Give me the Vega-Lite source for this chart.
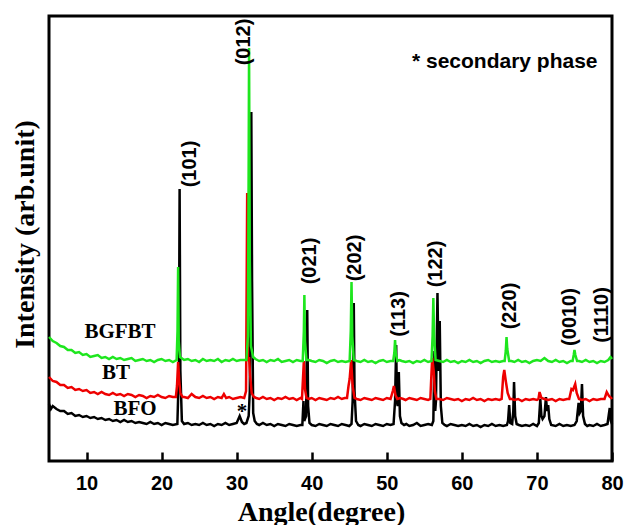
{
  "$schema": "https://vega.github.io/schema/vega-lite/v6.json",
  "width": 563,
  "height": 445,
  "autosize": {"type": "none"},
  "padding": {"left": 49, "top": 16, "right": 15, "bottom": 64},
  "background": "white",
  "config": {"view": {"stroke": "black", "strokeWidth": 3}},
  "datasets": {
    "BFO": [
      {"x":5,"y":57},{"x":5.25,"y":52},{"x":5.5,"y":55},{"x":6,"y":52},{"x":6.5,"y":50},{"x":7,"y":50},{"x":7.5,"y":47},{"x":8,"y":48},{"x":8.5,"y":45},{"x":9,"y":46},{"x":9.5,"y":44},{"x":10,"y":45},{"x":10.5,"y":43},{"x":11,"y":44},{"x":11.5,"y":42},{"x":12,"y":43},{"x":12.5,"y":41},{"x":13,"y":42},{"x":13.5,"y":40},{"x":14,"y":41},{"x":14.5,"y":39},{"x":15,"y":41},{"x":15.5,"y":39},{"x":16,"y":40},{"x":16.5,"y":38},{"x":17,"y":39},{"x":17.5,"y":38},{"x":18,"y":37},{"x":18.5,"y":39},{"x":19,"y":37},{"x":19.5,"y":38},{"x":20,"y":36},{"x":20.5,"y":38},{"x":21,"y":37},{"x":21.5,"y":36},
      {"x":22.1,"y":37},{"x":22.3,"y":90},{"x":22.4,"y":272},{"x":22.5,"y":90},{"x":22.7,"y":40},
      {"x":23,"y":37},{"x":23.5,"y":38},{"x":24,"y":36},{"x":24.5,"y":37},{"x":25,"y":36},{"x":25.5,"y":38},{"x":26,"y":36},{"x":26.5,"y":37},{"x":27,"y":35},{"x":27.5,"y":37},{"x":28,"y":36},{"x":28.5,"y":38},{"x":29,"y":36},{"x":29.5,"y":37},{"x":30,"y":38},{"x":30.4,"y":45},{"x":30.7,"y":39},{"x":31,"y":37},{"x":31.3,"y":38},
      {"x":31.6,"y":45},{"x":31.75,"y":70},{"x":31.85,"y":200},{"x":31.95,"y":349},{"x":32.05,"y":180},{"x":32.2,"y":48},{"x":32.4,"y":40},
      {"x":32.7,"y":37},{"x":33,"y":36},{"x":33.5,"y":38},{"x":34,"y":36},{"x":34.5,"y":37},{"x":35,"y":35},{"x":35.5,"y":37},{"x":36,"y":36},{"x":36.5,"y":35},{"x":37,"y":37},{"x":37.5,"y":36},{"x":38,"y":35},{"x":38.5,"y":36},
      {"x":38.75,"y":36},{"x":38.9,"y":60},{"x":39.0,"y":40},{"x":39.25,"y":45},{"x":39.4,"y":151},{"x":39.52,"y":55},{"x":39.7,"y":38},
      {"x":40,"y":36},{"x":40.5,"y":35},{"x":41,"y":37},{"x":41.5,"y":36},{"x":42,"y":35},{"x":42.5,"y":37},{"x":43,"y":36},{"x":43.5,"y":35},{"x":44,"y":37},{"x":44.5,"y":36},{"x":45,"y":35},{"x":45.3,"y":37},
      {"x":45.45,"y":60},{"x":45.6,"y":158},{"x":45.7,"y":70},{"x":45.9,"y":40},
      {"x":46.2,"y":36},{"x":46.5,"y":35},{"x":47,"y":37},{"x":47.5,"y":36},{"x":48,"y":35},{"x":48.5,"y":37},{"x":49,"y":36},{"x":49.5,"y":35},{"x":50,"y":37},{"x":50.5,"y":36},{"x":50.9,"y":37},
      {"x":51.1,"y":60},{"x":51.25,"y":116},{"x":51.35,"y":60},{"x":51.45,"y":55},{"x":51.6,"y":89},{"x":51.75,"y":45},{"x":51.95,"y":38},
      {"x":52.3,"y":36},{"x":52.6,"y":37},{"x":53,"y":35},{"x":53.5,"y":36},{"x":54,"y":38},{"x":54.5,"y":35},{"x":55,"y":36},{"x":55.5,"y":37},{"x":56,"y":36},
      {"x":56.2,"y":40},{"x":56.35,"y":110},{"x":56.45,"y":50},{"x":56.55,"y":60},{"x":56.75,"y":168},{"x":56.9,"y":90},{"x":57.05,"y":140},{"x":57.2,"y":55},{"x":57.4,"y":38},
      {"x":57.7,"y":36},{"x":58,"y":35},{"x":58.5,"y":37},{"x":59,"y":36},{"x":59.5,"y":35},{"x":60,"y":36},{"x":60.5,"y":35},{"x":61,"y":37},{"x":61.5,"y":35},{"x":62,"y":36},{"x":62.5,"y":34},{"x":63,"y":36},{"x":63.5,"y":35},{"x":64,"y":37},{"x":64.5,"y":35},{"x":65,"y":36},{"x":65.5,"y":35},{"x":66,"y":36},
      {"x":66.15,"y":40},{"x":66.3,"y":56},{"x":66.45,"y":38},{"x":66.7,"y":37},{"x":66.85,"y":50},{"x":66.95,"y":79},{"x":67.1,"y":45},{"x":67.3,"y":37},
      {"x":67.6,"y":36},{"x":68,"y":35},{"x":68.5,"y":36},{"x":69,"y":35},{"x":69.5,"y":37},{"x":70,"y":35},
      {"x":70.25,"y":38},{"x":70.45,"y":62},{"x":70.6,"y":45},{"x":70.75,"y":42},{"x":71.0,"y":45},{"x":71.2,"y":64},{"x":71.35,"y":50},{"x":71.5,"y":56},{"x":71.65,"y":42},{"x":71.9,"y":36},
      {"x":72.5,"y":35},{"x":73,"y":37},{"x":73.5,"y":35},{"x":74,"y":36},{"x":74.5,"y":35},{"x":75,"y":36},
      {"x":75.3,"y":40},{"x":75.55,"y":58},{"x":75.7,"y":48},{"x":75.85,"y":50},{"x":76.0,"y":77},{"x":76.15,"y":45},{"x":76.4,"y":37},
      {"x":76.7,"y":35},{"x":77,"y":36},{"x":77.5,"y":35},{"x":78,"y":37},{"x":78.5,"y":35},{"x":79,"y":36},{"x":79.4,"y":37},{"x":79.7,"y":53},{"x":79.85,"y":40},{"x":80,"y":37}
    ],
    "BT": [
      {"x":5,"y":84},{"x":5.5,"y":80},{"x":6,"y":79},{"x":6.5,"y":76},{"x":7,"y":76},{"x":7.5,"y":73},{"x":8,"y":74},{"x":8.5,"y":71},{"x":9,"y":72},{"x":9.5,"y":70},{"x":10,"y":71},{"x":10.5,"y":68},{"x":11,"y":69},{"x":11.5,"y":67},{"x":12,"y":69},{"x":12.5,"y":67},{"x":13,"y":66},{"x":13.5,"y":68},{"x":14,"y":66},{"x":14.5,"y":67},{"x":15,"y":65},{"x":15.5,"y":67},{"x":16,"y":66},{"x":16.5,"y":64},{"x":17,"y":66},{"x":17.5,"y":65},{"x":18,"y":63},{"x":18.5,"y":65},{"x":19,"y":64},{"x":19.5,"y":66},{"x":20,"y":64},{"x":20.5,"y":63},{"x":21,"y":65},{"x":21.5,"y":64},
      {"x":21.9,"y":64},{"x":22.05,"y":75},{"x":22.2,"y":99},{"x":22.35,"y":80},{"x":22.5,"y":68},{"x":22.8,"y":64},
      {"x":23,"y":64},{"x":23.5,"y":63},{"x":24,"y":67},{"x":24.5,"y":64},{"x":25,"y":63},{"x":25.5,"y":65},{"x":26,"y":63},{"x":26.5,"y":64},{"x":27,"y":62},{"x":27.5,"y":64},{"x":28,"y":63},{"x":28.3,"y":67},{"x":28.6,"y":63},{"x":29,"y":64},{"x":29.5,"y":62},{"x":30,"y":63},{"x":30.5,"y":64},
      {"x":31,"y":63},{"x":31.25,"y":70},{"x":31.4,"y":268},{"x":31.5,"y":100},{"x":31.65,"y":104},{"x":31.8,"y":85},{"x":32.0,"y":68},{"x":32.3,"y":64},
      {"x":32.6,"y":63},{"x":33,"y":62},{"x":33.5,"y":64},{"x":34,"y":62},{"x":34.5,"y":63},{"x":35,"y":61},{"x":35.5,"y":63},{"x":36,"y":62},{"x":36.5,"y":64},{"x":37,"y":62},{"x":37.5,"y":63},{"x":38,"y":61},{"x":38.5,"y":63},
      {"x":38.7,"y":62},{"x":38.85,"y":85},{"x":38.95,"y":100},{"x":39.1,"y":72},{"x":39.3,"y":63},
      {"x":39.6,"y":62},{"x":40,"y":63},{"x":40.5,"y":61},{"x":41,"y":63},{"x":41.5,"y":62},{"x":42,"y":61},{"x":42.5,"y":63},{"x":43,"y":62},{"x":43.5,"y":64},{"x":44,"y":62},{"x":44.4,"y":63},
      {"x":44.7,"y":63},{"x":44.9,"y":75},{"x":45.05,"y":82},{"x":45.25,"y":101},{"x":45.45,"y":75},{"x":45.7,"y":63},
      {"x":46,"y":62},{"x":46.5,"y":61},{"x":47,"y":63},{"x":47.5,"y":62},{"x":48,"y":61},{"x":48.5,"y":63},{"x":49,"y":62},{"x":49.5,"y":61},{"x":50,"y":63},
      {"x":50.5,"y":62},{"x":50.8,"y":70},{"x":50.95,"y":75},{"x":51.15,"y":66},{"x":51.4,"y":62},
      {"x":51.8,"y":63},{"x":52.2,"y":62},{"x":52.5,"y":61},{"x":53,"y":63},{"x":53.5,"y":62},{"x":54,"y":61},{"x":54.5,"y":63},{"x":55,"y":62},{"x":55.5,"y":61},
      {"x":55.8,"y":62},{"x":55.95,"y":88},{"x":56.05,"y":103},{"x":56.25,"y":90},{"x":56.4,"y":70},{"x":56.6,"y":62},
      {"x":57,"y":62},{"x":57.5,"y":61},{"x":58,"y":63},{"x":58.5,"y":62},{"x":59,"y":61},{"x":59.5,"y":62},{"x":60,"y":60},{"x":60.5,"y":62},{"x":61,"y":61},{"x":61.5,"y":63},{"x":62,"y":61},{"x":62.5,"y":62},{"x":63,"y":60},{"x":63.5,"y":62},{"x":64,"y":61},{"x":64.5,"y":62},{"x":65,"y":61},
      {"x":65.3,"y":62},{"x":65.5,"y":84},{"x":65.65,"y":91},{"x":65.85,"y":80},{"x":66.1,"y":68},{"x":66.4,"y":62},
      {"x":66.7,"y":62},{"x":67,"y":61},{"x":67.5,"y":62},{"x":68,"y":60},{"x":68.5,"y":62},{"x":69,"y":61},{"x":69.5,"y":62},{"x":70,"y":61},
      {"x":70.2,"y":62},{"x":70.35,"y":69},{"x":70.6,"y":63},
      {"x":71,"y":62},{"x":71.5,"y":61},{"x":72,"y":62},{"x":72.5,"y":60},{"x":73,"y":62},{"x":73.5,"y":61},{"x":74,"y":62},
      {"x":74.3,"y":62},{"x":74.6,"y":72},{"x":74.8,"y":71},{"x":75.1,"y":77},{"x":75.3,"y":68},{"x":75.6,"y":62},
      {"x":76,"y":61},{"x":76.5,"y":62},{"x":77,"y":60},{"x":77.5,"y":62},{"x":78,"y":61},{"x":78.5,"y":62},
      {"x":79,"y":62},{"x":79.3,"y":69},{"x":79.6,"y":65},{"x":79.9,"y":63},{"x":80,"y":62}
    ],
    "BGFBT": [
      {"x":5,"y":124},{"x":5.5,"y":120},{"x":6,"y":118},{"x":6.5,"y":115},{"x":7,"y":114},{"x":7.5,"y":111},{"x":8,"y":111},{"x":8.5,"y":108},{"x":9,"y":109},{"x":9.5,"y":106},{"x":10,"y":107},{"x":10.5,"y":104},{"x":11,"y":105},{"x":11.5,"y":106},{"x":12,"y":103},{"x":12.5,"y":104},{"x":13,"y":102},{"x":13.5,"y":104},{"x":14,"y":102},{"x":14.5,"y":103},{"x":15,"y":101},{"x":15.5,"y":102},{"x":16,"y":103},{"x":16.5,"y":100},{"x":17,"y":101},{"x":17.5,"y":102},{"x":18,"y":100},{"x":18.5,"y":101},{"x":19,"y":99},{"x":19.5,"y":101},{"x":20,"y":102},{"x":20.5,"y":100},{"x":21,"y":101},{"x":21.5,"y":99},
      {"x":22.0,"y":101},{"x":22.12,"y":130},{"x":22.2,"y":194},{"x":22.28,"y":120},{"x":22.45,"y":104},
      {"x":23,"y":101},{"x":23.5,"y":102},{"x":24,"y":100},{"x":24.5,"y":101},{"x":25,"y":99},{"x":25.5,"y":102},{"x":26,"y":100},{"x":26.5,"y":101},{"x":27,"y":100},{"x":27.5,"y":102},{"x":28,"y":99},{"x":28.5,"y":101},{"x":29,"y":100},{"x":29.5,"y":102},{"x":30,"y":100},{"x":30.5,"y":101},{"x":31,"y":101},
      {"x":31.3,"y":101},{"x":31.5,"y":125},{"x":31.6,"y":300},{"x":31.65,"y":413},{"x":31.75,"y":200},{"x":31.9,"y":115},{"x":32.2,"y":104},
      {"x":32.5,"y":102},{"x":33,"y":100},{"x":33.5,"y":101},{"x":34,"y":99},{"x":34.5,"y":101},{"x":35,"y":100},{"x":35.5,"y":102},{"x":36,"y":99},{"x":36.5,"y":100},{"x":37,"y":101},{"x":37.5,"y":99},{"x":38,"y":101},{"x":38.5,"y":100},
      {"x":38.8,"y":100},{"x":38.95,"y":130},{"x":39.02,"y":166},{"x":39.1,"y":120},{"x":39.3,"y":101},
      {"x":39.6,"y":101},{"x":40,"y":100},{"x":40.5,"y":99},{"x":41,"y":101},{"x":41.5,"y":100},{"x":42,"y":98},{"x":42.5,"y":100},{"x":43,"y":101},{"x":43.5,"y":99},{"x":44,"y":100},{"x":44.5,"y":99},
      {"x":45.05,"y":100},{"x":45.2,"y":130},{"x":45.3,"y":179},{"x":45.4,"y":125},{"x":45.6,"y":101},
      {"x":46,"y":100},{"x":46.5,"y":99},{"x":47,"y":101},{"x":47.5,"y":99},{"x":48,"y":100},{"x":48.5,"y":98},{"x":49,"y":100},{"x":49.5,"y":101},{"x":50,"y":99},{"x":50.5,"y":100},
      {"x":50.85,"y":100},{"x":51.0,"y":108},{"x":51.1,"y":121},{"x":51.2,"y":108},{"x":51.4,"y":100},
      {"x":51.7,"y":101},{"x":52,"y":100},{"x":52.5,"y":99},{"x":53,"y":100},{"x":53.5,"y":98},{"x":54,"y":100},{"x":54.5,"y":99},{"x":55,"y":101},{"x":55.5,"y":99},
      {"x":55.95,"y":100},{"x":56.1,"y":125},{"x":56.2,"y":163},{"x":56.3,"y":125},{"x":56.5,"y":101},
      {"x":57,"y":100},{"x":57.5,"y":99},{"x":58,"y":101},{"x":58.5,"y":99},{"x":59,"y":100},{"x":59.5,"y":98},{"x":60,"y":100},{"x":60.5,"y":99},{"x":61,"y":101},{"x":61.5,"y":99},{"x":62,"y":100},{"x":62.5,"y":98},{"x":63,"y":100},{"x":63.5,"y":101},{"x":64,"y":99},{"x":64.5,"y":100},{"x":65,"y":99},{"x":65.5,"y":100},
      {"x":65.7,"y":100},{"x":65.85,"y":110},{"x":65.95,"y":124},{"x":66.05,"y":112},{"x":66.3,"y":100},
      {"x":66.6,"y":100},{"x":67,"y":99},{"x":67.5,"y":101},{"x":68,"y":99},{"x":68.5,"y":100},{"x":69,"y":98},{"x":69.5,"y":100},{"x":70,"y":101},{"x":70.5,"y":100},{"x":71,"y":103},{"x":71.5,"y":100},{"x":72,"y":99},{"x":72.5,"y":101},{"x":73,"y":99},{"x":73.5,"y":100},{"x":74,"y":98},{"x":74.5,"y":100},
      {"x":74.75,"y":100},{"x":74.9,"y":106},{"x":75.0,"y":111},{"x":75.12,"y":106},{"x":75.35,"y":100},
      {"x":75.6,"y":100},{"x":76,"y":99},{"x":76.5,"y":101},{"x":77,"y":99},{"x":77.5,"y":100},{"x":78,"y":98},{"x":78.5,"y":100},{"x":79,"y":99},{"x":79.5,"y":101},{"x":79.8,"y":104},{"x":80,"y":102}
    ],
    "peaks": [
      {"t":"(101)","x":23.78,"y":297},{"t":"(012)","x":30.98,"y":419},{"t":"(021)","x":39.77,"y":200},{"t":"(202)","x":45.76,"y":203},{"t":"(113)","x":51.62,"y":147},{"t":"(122)","x":56.55,"y":197},{"t":"(220)","x":66.41,"y":155},{"t":"(0010)","x":74.4,"y":144},{"t":"(1110)","x":78.66,"y":146}
    ],
    "names": [
      {"t":"BGFBT","x":14.46,"y":129},{"t":"BT","x":13.92,"y":88},{"t":"BFO","x":16.46,"y":52},{"t":"*","x":30.71,"y":49}
    ],
    "note": [{"t":"* secondary phase","x":53.35,"y":399}]
  },
  "encoding": {
    "x": {"field": "x", "type": "quantitative",
      "scale": {"domain": [5, 80], "nice": false, "zero": false},
      "axis": {"title": "Angle(degree)", "values": [10,20,30,40,50,60,70,80], "grid": false, "domain": false,
        "offset": -9, "ticks": true, "tickSize": 9, "tickWidth": 2.5, "tickColor": "black", "labelFlush": false, "labelOverlap": false,
        "labelFont": "Liberation Sans", "labelFontSize": 20, "labelFontWeight": "bold", "labelColor": "black", "labelPadding": 12,
        "titleFont": "Liberation Serif", "titleFontSize": 28, "titleFontWeight": "bold", "titleColor": "black",
        "titleX": 272, "titleY": 68, "titleBaseline": "alphabetic"}},
    "y": {"field": "y", "type": "quantitative",
      "scale": {"domain": [0, 445], "nice": false, "zero": false},
      "axis": {"title": "Intensity (arb.unit)", "grid": false, "domain": false, "ticks": false, "labels": false,
        "titleFont": "Liberation Serif", "titleFontSize": 28, "titleFontWeight": "bold", "titleColor": "black",
        "titleX": -24, "titleY": 218, "titleAngle": -90, "titleBaseline": "middle", "titleAlign": "center"}}
  },
  "layer": [
    {"data": {"name": "BFO"}, "mark": {"type": "line", "color": "#000000", "strokeWidth": 2.5}},
    {"data": {"name": "BT"}, "mark": {"type": "line", "color": "#ee0000", "strokeWidth": 2.5}},
    {"data": {"name": "BGFBT"}, "mark": {"type": "line", "color": "#1ee61e", "strokeWidth": 2.5}},
    {"data": {"name": "peaks"}, "mark": {"type": "text", "angle": 270, "align": "center", "baseline": "middle", "font": "Liberation Sans", "fontSize": 20, "fontWeight": "bold", "color": "black"}, "encoding": {"text": {"field": "t"}}},
    {"data": {"name": "names"}, "mark": {"type": "text", "align": "center", "baseline": "middle", "font": "Liberation Serif", "fontSize": 21, "fontWeight": "bold", "color": "black"}, "encoding": {"text": {"field": "t"}}},
    {"data": {"name": "note"}, "mark": {"type": "text", "align": "left", "baseline": "middle", "font": "Liberation Sans", "fontSize": 21, "fontWeight": "bold", "color": "black"}, "encoding": {"text": {"field": "t"}}}
  ]
}
